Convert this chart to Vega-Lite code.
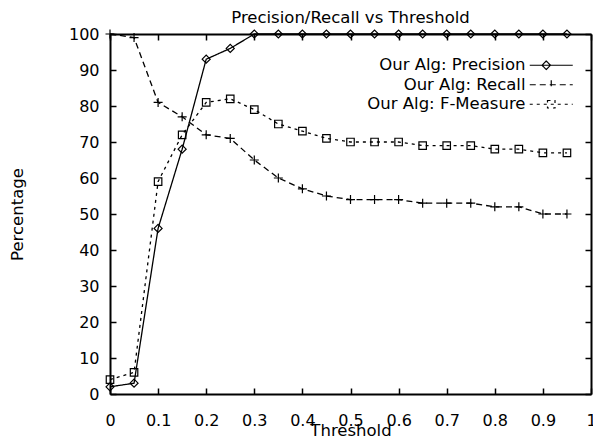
{
  "$schema": "https://vega.github.io/schema/vega-lite/v6.json",
  "width": 481,
  "height": 360,
  "autosize": {"type": "none"},
  "padding": {"left": 110, "top": 34, "right": 2, "bottom": 45},
  "background": "white",
  "title": {"text": "Precision/Recall vs Threshold", "fontSize": 16.5, "font": "DejaVu Sans", "fontWeight": "normal", "color": "black", "anchor": "middle", "offset": 0},
  "config": {
    "view": {"stroke": null},
    "axis": {"domainColor": "black", "domainWidth": 2, "tickColor": "black", "tickWidth": 1.5, "tickSize": -6, "labelFont": "DejaVu Sans", "labelFontSize": 16, "labelColor": "black", "titleFont": "DejaVu Sans", "titleFontSize": 16.5, "titleFontWeight": "normal", "titleColor": "black", "grid": false}
  },
  "data": {"values": [
    {"threshold": 0, "value": 2, "series": "Our Alg: Precision"},
    {"threshold": 0.05, "value": 3, "series": "Our Alg: Precision"},
    {"threshold": 0.1, "value": 46, "series": "Our Alg: Precision"},
    {"threshold": 0.15, "value": 68, "series": "Our Alg: Precision"},
    {"threshold": 0.2, "value": 93, "series": "Our Alg: Precision"},
    {"threshold": 0.25, "value": 96, "series": "Our Alg: Precision"},
    {"threshold": 0.3, "value": 100, "series": "Our Alg: Precision"},
    {"threshold": 0.35, "value": 100, "series": "Our Alg: Precision"},
    {"threshold": 0.4, "value": 100, "series": "Our Alg: Precision"},
    {"threshold": 0.45, "value": 100, "series": "Our Alg: Precision"},
    {"threshold": 0.5, "value": 100, "series": "Our Alg: Precision"},
    {"threshold": 0.55, "value": 100, "series": "Our Alg: Precision"},
    {"threshold": 0.6, "value": 100, "series": "Our Alg: Precision"},
    {"threshold": 0.65, "value": 100, "series": "Our Alg: Precision"},
    {"threshold": 0.7, "value": 100, "series": "Our Alg: Precision"},
    {"threshold": 0.75, "value": 100, "series": "Our Alg: Precision"},
    {"threshold": 0.8, "value": 100, "series": "Our Alg: Precision"},
    {"threshold": 0.85, "value": 100, "series": "Our Alg: Precision"},
    {"threshold": 0.9, "value": 100, "series": "Our Alg: Precision"},
    {"threshold": 0.95, "value": 100, "series": "Our Alg: Precision"},
    {"threshold": 0, "value": 100, "series": "Our Alg: Recall"},
    {"threshold": 0.05, "value": 99, "series": "Our Alg: Recall"},
    {"threshold": 0.1, "value": 81, "series": "Our Alg: Recall"},
    {"threshold": 0.15, "value": 77, "series": "Our Alg: Recall"},
    {"threshold": 0.2, "value": 72, "series": "Our Alg: Recall"},
    {"threshold": 0.25, "value": 71, "series": "Our Alg: Recall"},
    {"threshold": 0.3, "value": 65, "series": "Our Alg: Recall"},
    {"threshold": 0.35, "value": 60, "series": "Our Alg: Recall"},
    {"threshold": 0.4, "value": 57, "series": "Our Alg: Recall"},
    {"threshold": 0.45, "value": 55, "series": "Our Alg: Recall"},
    {"threshold": 0.5, "value": 54, "series": "Our Alg: Recall"},
    {"threshold": 0.55, "value": 54, "series": "Our Alg: Recall"},
    {"threshold": 0.6, "value": 54, "series": "Our Alg: Recall"},
    {"threshold": 0.65, "value": 53, "series": "Our Alg: Recall"},
    {"threshold": 0.7, "value": 53, "series": "Our Alg: Recall"},
    {"threshold": 0.75, "value": 53, "series": "Our Alg: Recall"},
    {"threshold": 0.8, "value": 52, "series": "Our Alg: Recall"},
    {"threshold": 0.85, "value": 52, "series": "Our Alg: Recall"},
    {"threshold": 0.9, "value": 50, "series": "Our Alg: Recall"},
    {"threshold": 0.95, "value": 50, "series": "Our Alg: Recall"},
    {"threshold": 0, "value": 4, "series": "Our Alg: F-Measure"},
    {"threshold": 0.05, "value": 6, "series": "Our Alg: F-Measure"},
    {"threshold": 0.1, "value": 59, "series": "Our Alg: F-Measure"},
    {"threshold": 0.15, "value": 72, "series": "Our Alg: F-Measure"},
    {"threshold": 0.2, "value": 81, "series": "Our Alg: F-Measure"},
    {"threshold": 0.25, "value": 82, "series": "Our Alg: F-Measure"},
    {"threshold": 0.3, "value": 79, "series": "Our Alg: F-Measure"},
    {"threshold": 0.35, "value": 75, "series": "Our Alg: F-Measure"},
    {"threshold": 0.4, "value": 73, "series": "Our Alg: F-Measure"},
    {"threshold": 0.45, "value": 71, "series": "Our Alg: F-Measure"},
    {"threshold": 0.5, "value": 70, "series": "Our Alg: F-Measure"},
    {"threshold": 0.55, "value": 70, "series": "Our Alg: F-Measure"},
    {"threshold": 0.6, "value": 70, "series": "Our Alg: F-Measure"},
    {"threshold": 0.65, "value": 69, "series": "Our Alg: F-Measure"},
    {"threshold": 0.7, "value": 69, "series": "Our Alg: F-Measure"},
    {"threshold": 0.75, "value": 69, "series": "Our Alg: F-Measure"},
    {"threshold": 0.8, "value": 68, "series": "Our Alg: F-Measure"},
    {"threshold": 0.85, "value": 68, "series": "Our Alg: F-Measure"},
    {"threshold": 0.9, "value": 67, "series": "Our Alg: F-Measure"},
    {"threshold": 0.95, "value": 67, "series": "Our Alg: F-Measure"}
  ]},
  "layer": [
    {
      "mark": {"type": "line", "color": "black", "strokeWidth": 1.3},
      "encoding": {
        "x": {"field": "threshold", "type": "quantitative", "scale": {"domain": [0, 1], "nice": false},
              "axis": {"title": "Threshold", "values": [0, 0.1, 0.2, 0.3, 0.4, 0.5, 0.6, 0.7, 0.8, 0.9, 1], "format": "~g", "labelPadding": 24, "titlePadding": -6, "labelFlush": false, "labelOverlap": false}},
        "y": {"field": "value", "type": "quantitative", "scale": {"domain": [0, 100], "nice": false},
              "axis": {"title": "Percentage", "values": [0, 10, 20, 30, 40, 50, 60, 70, 80, 90, 100], "labelPadding": 17, "titlePadding": 43, "labelOverlap": false}},
        "strokeDash": {"field": "series", "type": "nominal",
          "scale": {"domain": ["Our Alg: Precision", "Our Alg: Recall", "Our Alg: F-Measure"], "range": [[1, 0], [6, 4], [3, 4]]},
          "legend": {"title": " ", "titleFontSize": 6, "titlePadding": 2, "orient": "top-right", "offset": 15, "padding": 0, "symbolSize": 100, "labelAlign": "right", "labelOffset": -34, "labelFont": "DejaVu Sans", "labelFontSize": 16.5, "labelColor": "black", "labelLimit": 400, "rowPadding": 2.5, "symbolStrokeWidth": 1.2, "symbolStrokeColor": "black", "symbolFillColor": "transparent",
            "encode": {"symbols": {"update": {
              "shape": {"signal": "datum.value === 'Our Alg: Precision' ? 'M-4.3,0H4.3M-1,-0.85L-0.15,0L-1,0.85L-1.85,0Z' : datum.value === 'Our Alg: Recall' ? 'M-4.3,0H4.3M0,-0.9V0.9' : 'M-4.3,0H4.3M-0.75,-0.75H0.75V0.75H-0.75Z'"},
              "fill": {"value": "transparent"},
              "stroke": {"value": "black"}
            }}}}
        }
      }
    },
    {
      "transform": [{"filter": "datum.series === 'Our Alg: Precision'"}],
      "mark": {"type": "point", "shape": "diamond", "filled": false, "color": "black", "strokeWidth": 1.2, "size": 64, "opacity": 1},
      "encoding": {
        "x": {"field": "threshold", "type": "quantitative", "scale": {"domain": [0, 1], "nice": false},
              "axis": {"orient": "top", "labels": false, "title": null, "values": [0, 0.1, 0.2, 0.3, 0.4, 0.5, 0.6, 0.7, 0.8, 0.9, 1]}},
        "y": {"field": "value", "type": "quantitative", "scale": {"domain": [0, 100], "nice": false},
              "axis": {"orient": "right", "labels": false, "title": null, "values": [0, 10, 20, 30, 40, 50, 60, 70, 80, 90, 100]}}
      }
    },
    {
      "transform": [{"filter": "datum.series === 'Our Alg: Recall'"}],
      "mark": {"type": "point", "shape": "M-1,0H1M0,-1V1", "filled": false, "color": "black", "strokeWidth": 1.2, "size": 81, "opacity": 1},
      "encoding": {
        "x": {"field": "threshold", "type": "quantitative", "axis": null},
        "y": {"field": "value", "type": "quantitative", "axis": null}
      }
    },
    {
      "transform": [{"filter": "datum.series === 'Our Alg: F-Measure'"}],
      "mark": {"type": "point", "shape": "square", "filled": false, "color": "black", "strokeWidth": 1.2, "size": 56, "opacity": 1},
      "encoding": {
        "x": {"field": "threshold", "type": "quantitative", "axis": null},
        "y": {"field": "value", "type": "quantitative", "axis": null}
      }
    }
  ],
  "resolve": {"axis": {"x": "independent", "y": "independent"}}
}
